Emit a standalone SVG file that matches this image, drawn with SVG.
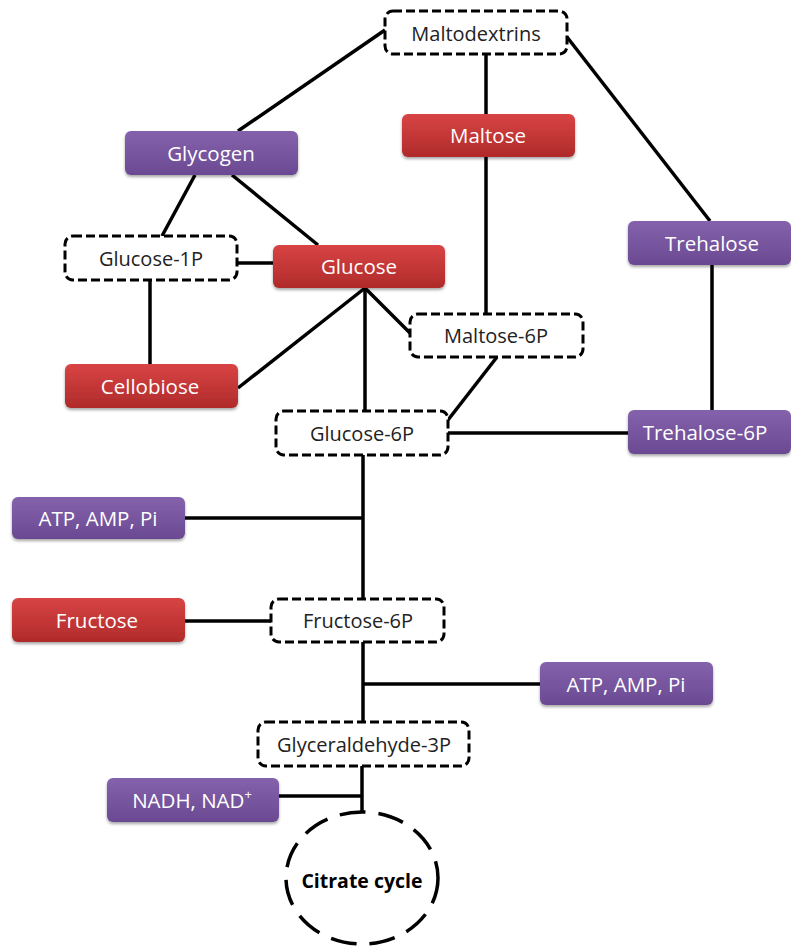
<svg xmlns="http://www.w3.org/2000/svg" width="791" height="947" viewBox="0 0 791 947">
<defs>
<linearGradient id="gp" x1="0" y1="0" x2="0" y2="1"><stop offset="0" stop-color="#8462AC"/><stop offset="1" stop-color="#6A4A92"/></linearGradient>
<linearGradient id="gr" x1="0" y1="0" x2="0" y2="1"><stop offset="0" stop-color="#D84444"/><stop offset="1" stop-color="#B02A2A"/></linearGradient>
<filter id="sh" x="-10%" y="-20%" width="120%" height="150%"><feDropShadow dx="0" dy="2" stdDeviation="1.5" flood-color="#000" flood-opacity="0.35"/></filter>
</defs>
<style>
.p{fill:url(#gp);filter:url(#sh)}
.r{fill:url(#gr);filter:url(#sh)}
.d{fill:#fff;stroke:#000;stroke-width:3;stroke-dasharray:9 4}
.tw{fill:#fff;font-family:"Open Sans","Noto Sans",sans-serif;font-size:20.5px;font-weight:500;text-anchor:middle;dominant-baseline:central}
.tb{fill:#222;font-family:"Open Sans","Noto Sans",sans-serif;font-size:20px;text-anchor:middle;dominant-baseline:central}
.c{stroke:#000;stroke-width:3.5;fill:none}
</style>
<g id="connectors" class="c">
<line x1="385" y1="30" x2="238" y2="131"/>
<line x1="486" y1="54" x2="486" y2="114"/>
<line x1="567" y1="37" x2="710" y2="221"/>
<line x1="195" y1="175" x2="162" y2="236"/>
<line x1="232" y1="175" x2="318" y2="245"/>
<line x1="237" y1="263" x2="273" y2="263"/>
<line x1="150" y1="280" x2="150" y2="364"/>
<line x1="365" y1="288" x2="238" y2="388"/>
<line x1="365" y1="288" x2="365" y2="411"/>
<line x1="365" y1="288" x2="410" y2="333"/>
<line x1="486" y1="157" x2="486" y2="314"/>
<line x1="497" y1="357" x2="448" y2="420"/>
<line x1="712" y1="265" x2="712" y2="410"/>
<line x1="448" y1="433" x2="628" y2="433"/>
<line x1="363" y1="455" x2="363" y2="599"/>
<line x1="185" y1="518" x2="363" y2="518"/>
<line x1="185" y1="621" x2="271" y2="621"/>
<line x1="363" y1="642" x2="363" y2="722"/>
<line x1="363" y1="684" x2="540" y2="684"/>
<line x1="362" y1="766" x2="362" y2="812"/>
<line x1="279" y1="796" x2="362" y2="796"/>
</g>
<g id="maltodextrins"><rect class="d" x="385" y="11" width="182" height="43" rx="8"/><text class="tb" x="476" y="33">Maltodextrins</text></g>
<g id="maltose"><rect class="r" x="402" y="114" width="173" height="43" rx="6"/><text class="tw" x="488" y="135">Maltose</text></g>
<g id="glycogen"><rect class="p" x="125" y="131" width="173" height="44" rx="6"/><text class="tw" x="211" y="153">Glycogen</text></g>
<g id="glucose1p"><rect class="d" x="65" y="236" width="172" height="44" rx="8"/><text class="tb" x="151" y="258">Glucose-1P</text></g>
<g id="glucose"><rect class="r" x="273" y="245" width="172" height="43" rx="6"/><text class="tw" x="359" y="266">Glucose</text></g>
<g id="trehalose"><rect class="p" x="628" y="221" width="163" height="44" rx="6"/><text class="tw" x="712" y="243">Trehalose</text></g>
<g id="maltose6p"><rect class="d" x="410" y="314" width="173" height="43" rx="8"/><text class="tb" x="496" y="335">Maltose-6P</text></g>
<g id="cellobiose"><rect class="r" x="65" y="364" width="173" height="44" rx="6"/><text class="tw" x="150" y="386">Cellobiose</text></g>
<g id="glucose6p"><rect class="d" x="276" y="411" width="172" height="44" rx="8"/><text class="tb" x="362" y="433">Glucose-6P</text></g>
<g id="trehalose6p"><rect class="p" x="628" y="410" width="163" height="44" rx="6"/><text class="tw" x="705" y="432">Trehalose-6P</text></g>
<g id="atp1"><rect class="p" x="12" y="497" width="173" height="42" rx="6"/><text class="tw" x="98" y="518">ATP, AMP, Pi</text></g>
<g id="fructose"><rect class="r" x="12" y="598" width="173" height="44" rx="6"/><text class="tw" x="97" y="620">Fructose</text></g>
<g id="fructose6p"><rect class="d" x="271" y="599" width="173" height="43" rx="8"/><text class="tb" x="358" y="620">Fructose-6P</text></g>
<g id="atp2"><rect class="p" x="540" y="662" width="173" height="43" rx="6"/><text class="tw" x="626" y="684">ATP, AMP, Pi</text></g>
<g id="glyceraldehyde3p"><rect class="d" x="258" y="722" width="211" height="44" rx="8"/><text class="tb" x="364" y="744">Glyceraldehyde-3P</text></g>
<g id="nadh"><rect class="p" x="107" y="778" width="172" height="44" rx="6"/><text class="tw" x="192" y="800">NADH, NAD<tspan font-size="13" dy="-6">+</tspan></text></g>
<g id="citrate"><ellipse cx="362" cy="878" rx="76" ry="66" fill="#fff" stroke="#000" stroke-width="3.5" stroke-dasharray="26 13"/><text x="362" y="880" font-family="'Open Sans','Noto Sans',sans-serif" font-size="19.5" font-weight="bold" text-anchor="middle" dominant-baseline="central" fill="#000">Citrate cycle</text></g>
</svg>
